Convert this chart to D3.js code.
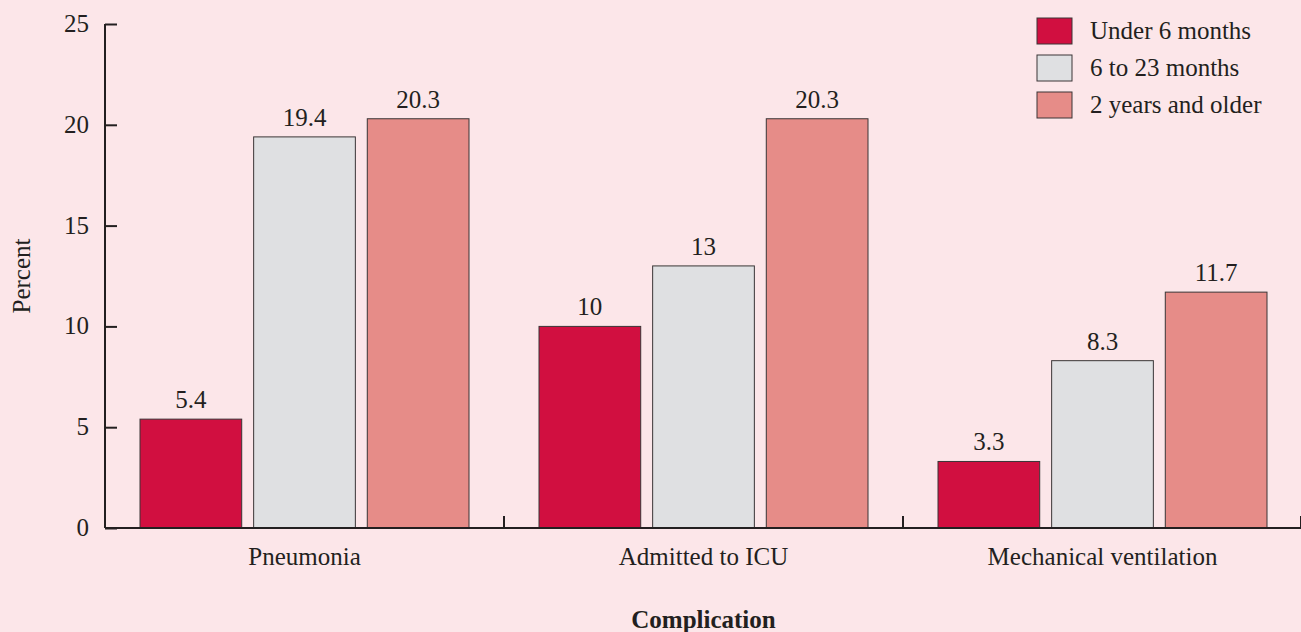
<!DOCTYPE html>
<html>
<head>
<meta charset="utf-8">
<script src="https://cdn.jsdelivr.net/npm/d3@7"></script>
<style>
  body { margin: 0; background: #fce6e9; }
  text { font-family: "Liberation Serif", "Times New Roman", serif; fill: #231f20; }
</style>
</head>
<body>
<script>
// data
let categories = ["Pneumonia", "Admitted to ICU", "Mechanical ventilation"];
let seriesNames = ["Under 6 months", "6 to 23 months", "2 years and older"];
let under6 = [5.4, 10, 3.3];
let to23 = [19.4, 13, 8.3];
let older = [20.3, 20.3, 11.7];
let yTicks = [0, 5, 10, 15, 20, 25];
let colors = ["#d10f40", "#dfe0e2", "#e68c88"];

let W = 1301, H = 632;
let plotLeft = 105, plotRight = 1302, plotTop = 24, plotBottom = 528;
let fs = 25;

let svg = d3.select("body").append("svg")
    .attr("width", W)
    .attr("height", H);

svg.append("rect").attr("width", W).attr("height", H).attr("fill", "#fce6e9");

let x0 = d3.scaleBand().domain(categories).range([plotLeft, plotRight]);
let x1 = d3.scaleBand().domain(seriesNames).range([35, x0.bandwidth() - 35]).paddingInner(0.105);
let y = d3.scaleLinear().domain([0, 25]).range([plotBottom, plotTop]);

let rows = categories.map(function (c, i) {
    return { cat: c, vals: [under6[i], to23[i], older[i]] };
});

// bars
let groups = svg.selectAll("g.cat")
    .data(rows)
    .enter()
    .append("g")
    .attr("class", "cat")
    .attr("transform", function (d) { return "translate(" + x0(d.cat) + ",0)"; });

groups.selectAll("rect")
    .data(function (d) { return d.vals.map(function (v, j) { return { name: seriesNames[j], v: v, j: j }; }); })
    .enter()
    .append("rect")
    .attr("x", function (d) { return x1(d.name); })
    .attr("y", function (d) { return y(d.v); })
    .attr("width", x1.bandwidth())
    .attr("height", function (d) { return y(0) - y(d.v); })
    .attr("fill", function (d) { return colors[d.j]; })
    .attr("stroke", "#3a3536")
    .attr("stroke-width", 1);

groups.selectAll("text.val")
    .data(function (d) { return d.vals.map(function (v, j) { return { name: seriesNames[j], v: v }; }); })
    .enter()
    .append("text")
    .attr("class", "val")
    .attr("x", function (d) { return x1(d.name) + x1.bandwidth() / 2; })
    .attr("y", function (d) { return y(d.v) - 11; })
    .attr("text-anchor", "middle")
    .attr("font-size", fs)
    .text(function (d) { return d.v; });

// y axis
let yAxis = svg.append("g")
    .attr("transform", "translate(" + plotLeft + ",0)")
    .call(d3.axisRight(y).tickValues(yTicks).tickSize(12).tickFormat(""));
yAxis.select(".domain").attr("stroke", "#231f20").attr("stroke-width", 2).attr("d", "M0," + plotTop + "V" + plotBottom);
yAxis.selectAll(".tick line").attr("stroke", "#231f20").attr("stroke-width", 2);

svg.selectAll("text.ytick")
    .data(yTicks)
    .enter()
    .append("text")
    .attr("class", "ytick")
    .attr("x", 89)
    .attr("y", function (d) { return y(d) + 8; })
    .attr("text-anchor", "end")
    .attr("font-size", fs)
    .text(function (d) { return d; });

// x axis
let xAxis = svg.append("g")
    .attr("transform", "translate(0," + plotBottom + ")")
    .call(d3.axisTop(x0).tickSize(12).tickFormat("").tickValues(categories.slice(1)));
xAxis.selectAll(".tick").attr("transform", function (d) { return "translate(" + x0(d) + ",0)"; });
xAxis.select(".domain").attr("stroke", "#231f20").attr("stroke-width", 2).attr("d", "M" + plotLeft + ",0H" + plotRight);
xAxis.selectAll(".tick line").attr("stroke", "#231f20").attr("stroke-width", 2);
xAxis.append("line").attr("x1", plotRight - 1).attr("x2", plotRight - 1).attr("y1", 0).attr("y2", -12)
    .attr("stroke", "#231f20").attr("stroke-width", 2);

svg.selectAll("text.xlab")
    .data(categories)
    .enter()
    .append("text")
    .attr("class", "xlab")
    .attr("x", function (d) { return x0(d) + x0.bandwidth() / 2; })
    .attr("y", 565)
    .attr("text-anchor", "middle")
    .attr("font-size", fs)
    .text(function (d) { return d; });

// titles
svg.append("text")
    .attr("x", (plotLeft + plotRight) / 2)
    .attr("y", 628)
    .attr("text-anchor", "middle")
    .attr("font-size", fs)
    .attr("font-weight", "bold")
    .text("Complication");

svg.append("text")
    .attr("transform", "translate(30," + ((plotTop + plotBottom) / 2) + ") rotate(-90)")
    .attr("text-anchor", "middle")
    .attr("font-size", fs)
    .text("Percent");

// legend
let legend = svg.selectAll("g.leg")
    .data(seriesNames)
    .enter()
    .append("g")
    .attr("class", "leg")
    .attr("transform", function (d, i) { return "translate(1037," + (18 + i * 37) + ")"; });
legend.append("rect")
    .attr("width", 35)
    .attr("height", 26)
    .attr("fill", function (d, i) { return colors[i]; })
    .attr("stroke", "#3a3536")
    .attr("stroke-width", 1);
legend.append("text")
    .attr("x", 53)
    .attr("y", 21)
    .attr("font-size", fs)
    .text(function (d) { return d; });
</script>
</body>
</html>
